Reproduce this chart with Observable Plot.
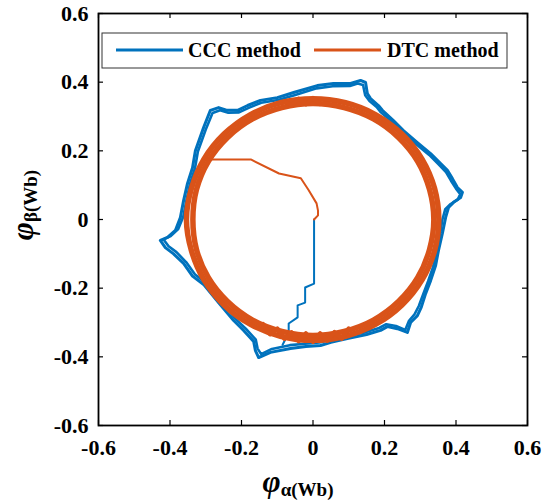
<!DOCTYPE html>
<html><head><meta charset="utf-8">
<script src="https://cdn.jsdelivr.net/npm/d3@7"></script>
<script src="https://cdn.jsdelivr.net/npm/@observablehq/plot@0.6"></script>
<style>body{margin:0;background:#fff}</style>
</head><body><div id="chart"></div>
<script>
const xTicks = [-0.6, -0.4, -0.2, 0, 0.2, 0.4, 0.6];
const yTicks = [-0.6, -0.4, -0.2, 0, 0.2, 0.4, 0.6];
const seriesNames = ["CCC method", "DTC method"];
const seriesColors = ["#0072BD", "#D95319"];

// CCC start transient
const cccStartX = [0.003, 0.003, -0.022, -0.022, -0.043, -0.043, -0.068, -0.068, -0.085];
const cccStartY = [0.000, -0.187, -0.198, -0.242, -0.250, -0.285, -0.303, -0.330, -0.365];
// CCC loop, first trace
const cccLoop1X = [0.133, 0.147, 0.152, 0.161, 0.183, 0.194, 0.225, 0.253, 0.292, 0.329, 0.357, 0.376, 0.390, 0.404, 0.418, 0.413, 0.393, 0.379, 0.371, 0.362, 0.351, 0.343, 0.329, 0.315, 0.303, 0.292, 0.273, 0.264, 0.236, 0.208, 0.189, 0.150, 0.096, 0.050, 0.021, -0.020, -0.063, -0.119, -0.152, -0.161, -0.166, -0.194, -0.222, -0.262, -0.305, -0.337, -0.362, -0.390, -0.413, -0.427, -0.407, -0.385, -0.371, -0.362, -0.351, -0.337, -0.329, -0.306, -0.287, -0.264, -0.240, -0.211, -0.183, -0.147, -0.100, -0.054, 0.012, 0.057, 0.105];
const cccLoop1Y = [0.405, 0.399, 0.367, 0.352, 0.332, 0.318, 0.288, 0.259, 0.224, 0.192, 0.163, 0.143, 0.119, 0.093, 0.079, 0.064, 0.050, 0.035, 0.006, -0.040, -0.090, -0.134, -0.178, -0.216, -0.255, -0.280, -0.300, -0.329, -0.318, -0.312, -0.323, -0.335, -0.347, -0.358, -0.367, -0.370, -0.376, -0.387, -0.402, -0.382, -0.355, -0.323, -0.294, -0.245, -0.190, -0.165, -0.128, -0.100, -0.082, -0.061, -0.052, -0.032, 0.006, 0.055, 0.105, 0.151, 0.200, 0.268, 0.318, 0.326, 0.318, 0.318, 0.332, 0.347, 0.355, 0.370, 0.390, 0.396, 0.396];
// CCC loop, second trace
const cccLoop2X = [0.125, 0.140, 0.146, 0.158, 0.178, 0.190, 0.222, 0.250, 0.288, 0.325, 0.352, 0.372, 0.386, 0.400, 0.412, 0.405, 0.385, 0.370, 0.362, 0.355, 0.345, 0.336, 0.322, 0.308, 0.296, 0.284, 0.268, 0.258, 0.232, 0.205, 0.185, 0.148, 0.094, 0.048, 0.018, -0.022, -0.065, -0.115, -0.145, -0.155, -0.160, -0.188, -0.216, -0.256, -0.298, -0.330, -0.355, -0.382, -0.404, -0.418, -0.398, -0.377, -0.363, -0.354, -0.344, -0.330, -0.322, -0.300, -0.281, -0.260, -0.237, -0.207, -0.180, -0.145, -0.098, -0.052, 0.010, 0.055, 0.103];
const cccLoop2Y = [0.396, 0.392, 0.362, 0.345, 0.328, 0.312, 0.283, 0.254, 0.220, 0.188, 0.160, 0.138, 0.113, 0.090, 0.074, 0.058, 0.045, 0.030, 0.000, -0.045, -0.095, -0.138, -0.180, -0.218, -0.252, -0.276, -0.296, -0.322, -0.310, -0.305, -0.316, -0.328, -0.340, -0.350, -0.358, -0.362, -0.366, -0.377, -0.392, -0.376, -0.350, -0.318, -0.290, -0.240, -0.186, -0.160, -0.124, -0.095, -0.078, -0.058, -0.048, -0.028, 0.008, 0.056, 0.104, 0.150, 0.198, 0.262, 0.310, 0.318, 0.311, 0.312, 0.325, 0.340, 0.348, 0.362, 0.382, 0.388, 0.389];

// DTC start transient
const dtcStartX = [0.003, 0.014, 0.014, 0.010, -0.012, -0.034, -0.095, -0.174, -0.300];
const dtcStartY = [0.000, 0.012, 0.026, 0.047, 0.085, 0.120, 0.134, 0.175, 0.175];
// DTC loop, outer trace
const dtcLoop1X = [0.352, 0.340, 0.305, 0.249, 0.176, 0.091, 0.000, -0.091, -0.176, -0.249, -0.305, -0.340, -0.354, -0.340, -0.305, -0.249, -0.176, -0.091, 0.000, 0.091, 0.176, 0.249, 0.305, 0.340];
const dtcLoop1Y = [0.000, 0.091, 0.176, 0.249, 0.305, 0.340, 0.352, 0.340, 0.305, 0.249, 0.176, 0.091, 0.000, -0.091, -0.176, -0.249, -0.305, -0.340, -0.352, -0.340, -0.305, -0.249, -0.176, -0.091];
// DTC loop, inner trace
const dtcLoop2X = [0.338, 0.326, 0.293, 0.239, 0.169, 0.087, 0.000, -0.087, -0.169, -0.239, -0.293, -0.326, -0.336, -0.326, -0.293, -0.239, -0.169, -0.087, 0.000, 0.087, 0.169, 0.239, 0.293, 0.326];
const dtcLoop2Y = [0.000, 0.087, 0.169, 0.239, 0.293, 0.326, 0.338, 0.326, 0.293, 0.239, 0.169, 0.087, 0.000, -0.087, -0.169, -0.239, -0.293, -0.326, -0.338, -0.326, -0.293, -0.239, -0.169, -0.087];
// DTC ripple near the bottom and the top
const dtcRippleX = [-0.14, -0.12, -0.10, -0.08, -0.06, -0.04, -0.02, 0.00, 0.02, 0.04, 0.06, 0.08, 0.10];
const dtcRippleY = [-0.305, -0.334, -0.318, -0.347, -0.329, -0.354, -0.332, -0.356, -0.332, -0.353, -0.328, -0.347, -0.318];
const dtcRippleTopX = [-0.08, -0.06, -0.04, -0.02, 0.00, 0.02];
const dtcRippleTopY = [0.345, 0.332, 0.352, 0.335, 0.354, 0.336];

const toRows = (xs, ys) => xs.map((x, i) => ({x, y: ys[i]}));

const W = 555, H = 502, mL = 98, mR = 28, mT = 13, mB = 77;
const fw = W - mL - mR, fh = H - mT - mB;
const fmt = d => d === 0 ? "0" : d.toFixed(1);
const FONT = "Liberation Serif";

const chart = Plot.plot({
  width: W, height: H,
  marginLeft: mL, marginRight: mR, marginTop: mT, marginBottom: mB,
  x: {domain: [-0.6, 0.6]},
  y: {domain: [-0.6, 0.6]},
  style: {fontFamily: FONT, fontWeight: "bold", fontSize: "22px", background: "#fff", color: "#000"},
  marks: [
    Plot.line(toRows(cccLoop1X, cccLoop1Y), {x: "x", y: "y", stroke: seriesColors[0], strokeWidth: 3, curve: "linear-closed"}),
    Plot.line(toRows(cccLoop2X, cccLoop2Y), {x: "x", y: "y", stroke: seriesColors[0], strokeWidth: 2.6, curve: "linear-closed"}),
    Plot.line(toRows(cccStartX, cccStartY), {x: "x", y: "y", stroke: seriesColors[0], strokeWidth: 2}),
    Plot.line(toRows(dtcLoop1X, dtcLoop1Y), {x: "x", y: "y", stroke: seriesColors[1], strokeWidth: 5.5, curve: "catmull-rom-closed"}),
    Plot.line(toRows(dtcLoop2X, dtcLoop2Y), {x: "x", y: "y", stroke: seriesColors[1], strokeWidth: 5.5, curve: "catmull-rom-closed"}),
    Plot.line(toRows(dtcRippleX, dtcRippleY), {x: "x", y: "y", stroke: seriesColors[1], strokeWidth: 4.5}),
    Plot.line(toRows(dtcRippleTopX, dtcRippleTopY), {x: "x", y: "y", stroke: seriesColors[1], strokeWidth: 4}),
    Plot.line(toRows(dtcStartX, dtcStartY), {x: "x", y: "y", stroke: seriesColors[1], strokeWidth: 2}),
    Plot.tickX(xTicks, {x: d => d, insetTop: fh - 5, stroke: "#000", strokeWidth: 1.2}),
    Plot.tickX(xTicks, {x: d => d, insetBottom: fh - 5, stroke: "#000", strokeWidth: 1.2}),
    Plot.tickY(yTicks, {y: d => d, insetRight: fw - 5, stroke: "#000", strokeWidth: 1.2}),
    Plot.tickY(yTicks, {y: d => d, insetLeft: fw - 5, stroke: "#000", strokeWidth: 1.2}),
    Plot.axisX({ticks: xTicks, tickSize: 0, tickPadding: 14, tickFormat: fmt, label: null, fontSize: 22, fontFamily: FONT, fontWeight: "bold", fill: "#000"}),
    Plot.axisY({ticks: yTicks, tickSize: 0, tickPadding: 10, tickFormat: fmt, label: null, fontSize: 22, fontFamily: FONT, fontWeight: "bold", fill: "#000"}),
    Plot.frame({stroke: "#000", strokeWidth: 1.8})
  ]
});

const svg = d3.select(chart);
svg.selectAll("text").attr("fill", "#000").attr("font-family", FONT).style("font-family", FONT);

// Legend inside the plot
const lg = svg.append("g").attr("class", "legend");
lg.append("rect").attr("x", 102).attr("y", 33).attr("width", 405).attr("height", 35)
  .attr("fill", "#fff").attr("stroke", "#333").attr("stroke-width", 1);
const entries = [{x0: 116, x1: 183, tx: 188}, {x0: 314, x1: 381, tx: 387}];
entries.forEach((e, i) => {
  lg.append("line").attr("x1", e.x0).attr("x2", e.x1).attr("y1", 50).attr("y2", 50)
    .attr("stroke", seriesColors[i]).attr("stroke-width", 3);
  lg.append("text").attr("x", e.tx).attr("y", 57).attr("font-size", 20).attr("font-weight", "bold")
    .attr("text-anchor", "start")
    .attr("font-family", FONT).attr("fill", "#000").text(seriesNames[i]);
});

// Axis labels
function axisLabel(g, sub) {
  const t = g.append("text").attr("text-anchor", "middle").attr("font-family", FONT)
    .attr("font-weight", "bold").attr("fill", "#000");
  t.append("tspan").attr("font-style", "italic").attr("font-size", 31).text("φ");
  t.append("tspan").attr("font-size", 19).attr("dy", 4).text(sub);
}
axisLabel(svg.append("g").attr("transform", "translate(298,492)"), "α(Wb)");
axisLabel(svg.append("g").attr("transform", "translate(33,205) rotate(-90)"), "β(Wb)");

document.getElementById("chart").appendChild(chart);
</script>
</body></html>
